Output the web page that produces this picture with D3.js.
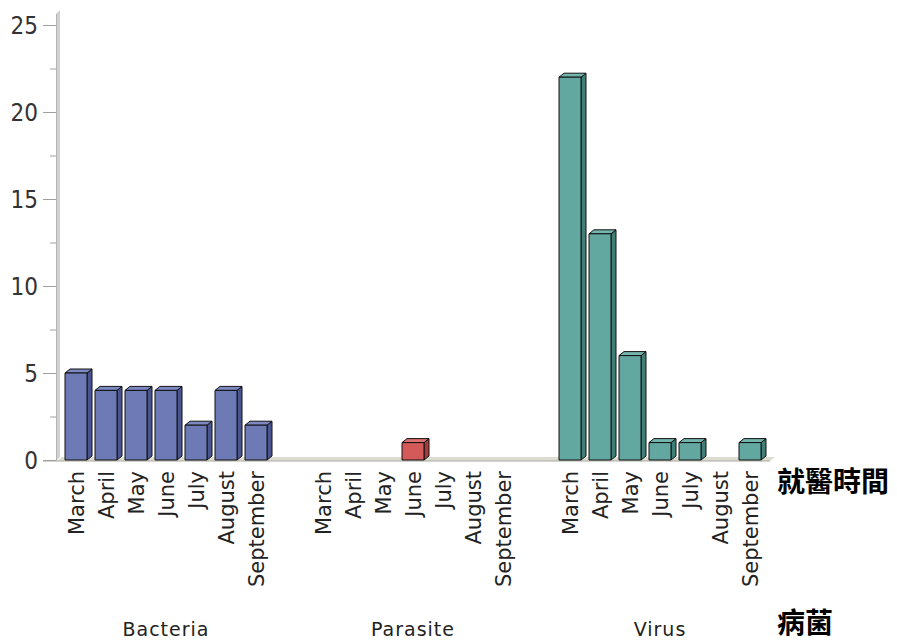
<!DOCTYPE html>
<html><head><meta charset="utf-8">
<script src="https://cdn.jsdelivr.net/npm/d3@7"></script>
<style>body{margin:0;background:#fff;} svg{display:block;}</style>
</head><body>
<svg id="c" width="897" height="641"></svg>
<script>
const groups = ["Bacteria", "Parasite", "Virus"];
const months = ["March", "April", "May", "June", "July", "August", "September"];
const bacteria = [5, 4, 4, 4, 2, 4, 2];
const parasite = [0, 0, 0, 1, 0, 0, 0];
const virus = [22, 13, 6, 1, 1, 0, 1];
const yTicks = [0, 5, 10, 15, 20, 25];
const xTitle = "就醫時間";
const groupTitle = "病菌";

const seriesValues = {Bacteria: bacteria, Parasite: parasite, Virus: virus};
const colors = {
  Bacteria: {front: "#6d7ab6", top: "#7d89c2", side: "#4a5590"},
  Parasite: {front: "#d45a5a", top: "#de7070", side: "#a33c3c"},
  Virus:    {front: "#62a8a0", top: "#72b6ae", side: "#3f7f78"}
};

const svg = d3.select("#c");
const dx = 5, dy = 4;
const y = d3.scaleLinear().domain([0, 25]).range([460, 25]);
const x0 = d3.scaleBand().domain(groups).range([65, 761]).paddingInner(45/247).paddingOuter(0);
const x1 = d3.scaleBand().domain(months).range([0, x0.bandwidth()]).paddingInner(8/30).paddingOuter(0);

const y0 = y(0);
// floor
const fx0 = 57, fx1 = x0.range()[1] + 9;
svg.append("polygon")
  .attr("points", [[fx0, y0 + 1], [fx1, y0 + 1], [fx1 + dx, y0 + 1 - dy], [fx0 + dx, y0 + 1 - dy]].map(p => p.join(",")).join(" "))
  .attr("fill", "#dcdcd0");
svg.append("line").attr("x1", 43).attr("x2", fx1).attr("y1", y0 + 1).attr("y2", y0 + 1)
  .attr("stroke", "#a8a8a0").attr("stroke-width", 1);

// wall
svg.append("polygon")
  .attr("points", [[56, y0 + 1], [56, y(25) - 11], [60, y(25) - 15], [60, y0 - 3]].map(p => p.join(",")).join(" "))
  .attr("fill", "#d0d0d0");
svg.append("line").attr("x1", 56.5).attr("x2", 56.5).attr("y1", y(25) - 11).attr("y2", y0 + 1)
  .attr("stroke", "#b4b4b4").attr("stroke-width", 1);

// ticks
const minor = d3.range(2.5, 25, 5);
svg.append("g").selectAll("line.minor").data(minor).join("line")
  .attr("x1", 50).attr("x2", 56).attr("y1", d => y(d) + 0.5).attr("y2", d => y(d) + 0.5)
  .attr("stroke", "#a0a0a0");
svg.append("g").selectAll("line.major").data(yTicks).join("line")
  .attr("x1", 43).attr("x2", 56).attr("y1", d => y(d) + 0.5).attr("y2", d => y(d) + 0.5)
  .attr("stroke", "#a0a0a0");
svg.append("g").selectAll("text").data(yTicks).join("text")
  .attr("x", 38).attr("y", d => y(d)).attr("dy", "0.36em")
  .attr("text-anchor", "end")
  .attr("font-family", "DejaVu Sans Condensed, DejaVu Sans")
  .attr("font-size", 24).attr("fill", "#333")
  .text(d => d);

// bars
const bars = [];
groups.forEach(g => months.forEach((m, i) => bars.push({g, m, v: seriesValues[g][i]})));
const bg = svg.append("g");
bars.filter(d => d.v > 0).forEach(d => {
  const bx = x0(d.g) + x1(d.m), w = x1.bandwidth(), by = y(d.v), c = colors[d.g];
  const gg = bg.append("g").attr("stroke", "#111").attr("stroke-width", 1).attr("stroke-linejoin", "round");
  gg.append("polygon").attr("points", [[bx + w, by], [bx + w + dx, by - dy], [bx + w + dx, y0 - dy], [bx + w, y0]].map(p => p.join(",")).join(" "))
    .attr("fill", c.side);
  gg.append("polygon").attr("points", [[bx, by], [bx + dx, by - dy], [bx + w + dx, by - dy], [bx + w, by]].map(p => p.join(",")).join(" "))
    .attr("fill", c.top);
  gg.append("rect").attr("x", bx).attr("y", by).attr("width", w).attr("height", y0 - by)
    .attr("fill", c.front);
});

// month labels
svg.append("g").selectAll("text").data(bars).join("text")
  .attr("transform", d => `translate(${x0(d.g) + x1(d.m) + x1.bandwidth() / 2},471) rotate(-90)`)
  .attr("text-anchor", "end").attr("dy", "0.36em")
  .attr("font-family", "DejaVu Sans").attr("font-size", 21).attr("fill", "#222")
  .text(d => d.m);

// group labels
svg.append("g").selectAll("text").data(groups).join("text")
  .attr("x", d => x0(d) + x0.bandwidth() / 2).attr("y", 636)
  .attr("text-anchor", "middle")
  .attr("font-family", "DejaVu Sans").attr("font-size", 19).attr("letter-spacing", 1).attr("fill", "#222")
  .text(d => d);

// axis titles
svg.append("text").attr("x", 777).attr("y", 492)
  .attr("font-family", "Noto Sans CJK TC").attr("font-weight", "bold").attr("font-size", 28).attr("fill", "#000")
  .text(xTitle);
svg.append("text").attr("x", 777).attr("y", 633)
  .attr("font-family", "Noto Sans CJK TC").attr("font-weight", "bold").attr("font-size", 28).attr("fill", "#000")
  .text(groupTitle);
</script>
</body></html>
